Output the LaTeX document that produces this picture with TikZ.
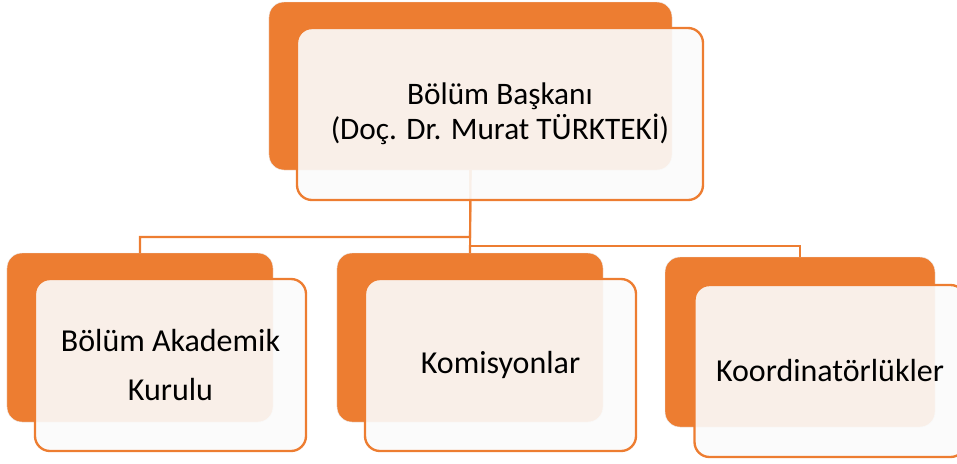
\documentclass[tikz,border=0pt]{standalone}
\usepackage{fontspec}
\setmainfont{Carlito}
\usetikzlibrary{calc}
\definecolor{myorange}{RGB}{237,125,49}
\definecolor{mypale}{RGB}{251,251,251}

\begin{document}
\begin{tikzpicture}[x=0.03cm,y=-0.03cm]

\tikzstyle{back} = [draw=black!8, thin, fill=myorange, rounded corners=4.5mm,
    outer sep=0, inner sep=0]
\tikzstyle{front} = [draw=myorange, line width=2pt, fill=mypale, fill opacity=0.91,
    text opacity=1, rounded corners=4.5mm, outer sep=0, align=center]
\tikzstyle{link} = [draw=myorange, line width=1.8pt]

\useasboundingbox (0,0) rectangle (957,463);

% =========================
% orange back boxes
% =========================
\node[back, minimum width=12.09cm, minimum height=5.04cm] (headback) at (470.5,86) {};
\node[back, minimum width=7.98cm, minimum height=5.07cm] (kurulback) at (140,337.5) {};
\node[back, minimum width=7.98cm, minimum height=5.07cm] (komback) at (470,337.5) {};
\node[back, minimum width=8.1cm, minimum height=5.1cm] (koordback) at (800,342) {};

% =========================
% connectors (under the front boxes)
% =========================
\coordinate (splitL) at (470,237);
\coordinate (splitR) at (470,246);
\draw[link] (headback.south) -- (splitL) -| (kurulback.north);
\draw[link] (headback.south) -- (komback.north);
\draw[link] (splitR) -| (koordback.north);

% =========================
% front boxes with the texts
% =========================
\node[front, minimum width=12.18cm, minimum height=5.16cm, font=\fontsize{26.7}{30}\selectfont]
    (head) at (500,114) {Bölüm Başkanı\\(Doç. Dr. Murat TÜRKTEKİ)};

\node[front, minimum width=8.13cm, minimum height=5.16cm, font=\fontsize{27.3}{41}\selectfont]
    (kurul) at (170.5,365) {Bölüm Akademik\\Kurulu};
\node[front, minimum width=8.13cm, minimum height=5.16cm, font=\fontsize{27.3}{41}\selectfont]
    (komisyon) at (500.5,365) {Komisyonlar};
\node[front, minimum width=8.13cm, minimum height=5.16cm, font=\fontsize{27.3}{41}\selectfont]
    (koord) at (830,371) {Koordinatörlükler};

\end{tikzpicture}
\end{document}
